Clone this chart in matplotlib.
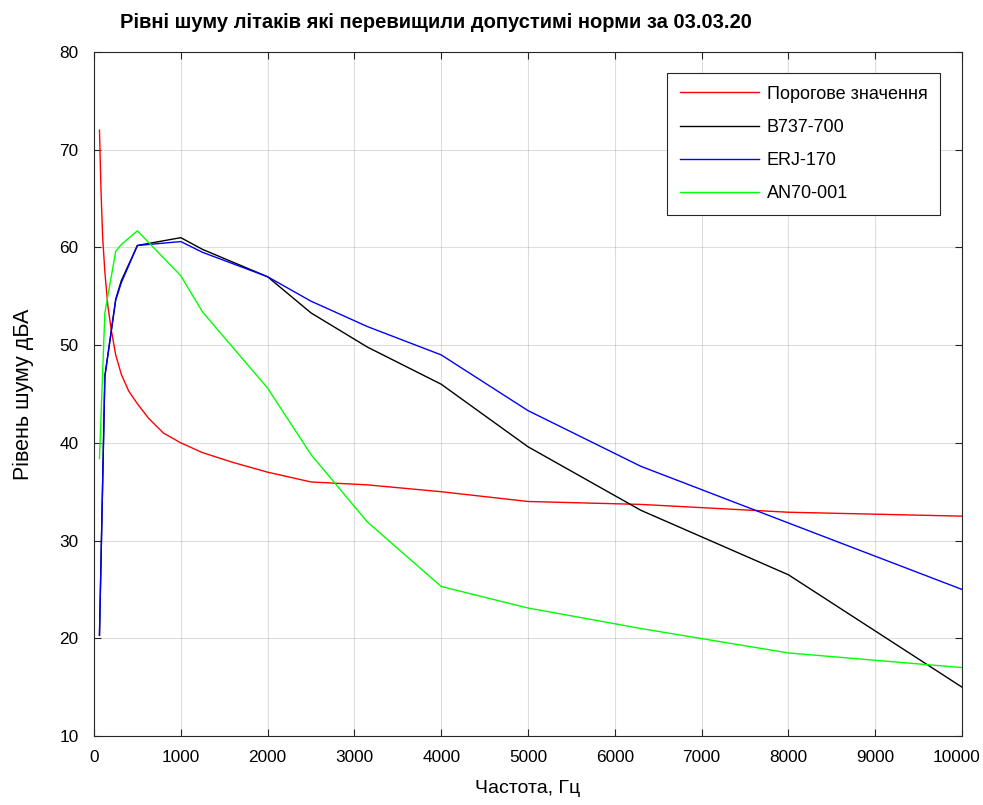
import numpy as np
import matplotlib
matplotlib.use("Agg")
from matplotlib import pyplot as plt
from matplotlib.transforms import ScaledTranslation

plt.rcParams['font.family'] = ['Liberation Sans', 'DejaVu Sans']

# third-octave band centres, Hz
f_thr = [63, 80, 100, 125, 160, 200, 250, 315, 400, 500, 630, 800, 1000,
         1250, 1600, 2000, 2500, 3150, 4000, 5000, 6300, 8000, 10000]
thr = [72.0, 66.0, 61.0, 57.5, 54.0, 51.5, 49.0, 47.0, 45.3, 44.0, 42.5, 41.0, 40.0,
       39.0, 38.0, 37.0, 36.0, 35.7, 35.0, 34.0, 33.7, 32.9, 32.5]

f = [63, 125, 250, 315, 500, 1000, 1250, 2000, 2500, 3150, 4000, 5000, 6300, 8000, 10000]
b737 = [20.3, 46.8, 54.7, 56.6, 60.2, 61.0, 59.8, 57.0, 53.3, 49.8, 46.0, 39.6, 33.1, 26.5, 15.0]
erj170 = [20.3, 46.8, 54.6, 56.4, 60.2, 60.6, 59.5, 57.0, 54.5, 51.9, 49.0, 43.3, 37.6, 31.8, 25.0]
an70 = [38.4, 53.3, 59.6, 60.3, 61.7, 57.1, 53.4, 45.6, 38.8, 31.9, 25.3, 23.1, 21.0, 18.5, 17.0]

fig = plt.figure(figsize=(9.83, 8.05), dpi=100)
ax = fig.add_axes([94 / 983, 69 / 805, 868 / 983, 684 / 805])

ax.plot(f_thr, thr, color=(1, 0, 0), lw=1.0, label='Порогове значення')
ax.plot(f, b737, color='black', lw=1.0, label='B737-700')
ax.plot(f, erj170, color=(0, 0, 1), lw=1.0, label='ERJ-170')
ax.plot(f, an70, color=(0, 1, 0), lw=1.0, label='AN70-001')

ax.set_xlim(0, 10000)
ax.set_ylim(10, 80)
ax.set_xticks(np.arange(0, 10001, 1000))
ax.set_yticks(np.arange(10, 81, 10))
ax.grid(True, color=(0.15, 0.15, 0.15), alpha=0.15, lw=0.8)
ax.tick_params(direction='in', length=5, width=0.8, top=True, right=True,
               labelsize=12.4, colors=(0.15, 0.15, 0.15), labelcolor='black')
ax.tick_params(axis='y', pad=11)
ax.tick_params(axis='x', pad=10)
for s in ax.spines.values():
    s.set_color((0.15, 0.15, 0.15))
    s.set_linewidth(0.8)

# nudge the last x label so it stays inside the figure
last = ax.get_xticklabels()[-1]
last.set_transform(last.get_transform() + ScaledTranslation(-5 / 100, 0, fig.dpi_scale_trans))

ax.set_xlabel('Частота, Гц', fontsize=14, labelpad=11)
ax.set_ylabel('Рівень шуму дБА', fontsize=15.5, labelpad=18)
fig.text(120 / 983, 1 - 22 / 805, 'Рівні шуму літаків які перевищили допустимі норми за 03.03.20',
         fontsize=14.5, fontweight='bold', va='center', ha='left')

leg = ax.legend(loc='upper right', bbox_to_anchor=(940 / 983, 1 - 73 / 805),
                bbox_transform=fig.transFigure, fontsize=13, fancybox=False,
                borderpad=0.7, labelspacing=0.9, handlelength=4.4, handletextpad=0.4,
                borderaxespad=0)
leg.get_frame().set_edgecolor((0.15, 0.15, 0.15))
leg.get_frame().set_linewidth(0.8)
leg.get_frame().set_alpha(1)

fig.savefig('out.png', dpi=100)
